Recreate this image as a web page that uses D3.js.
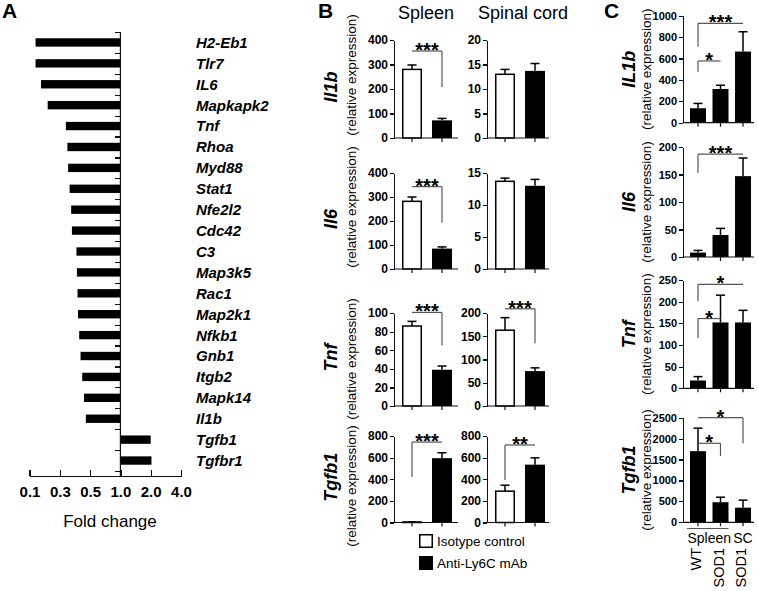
<!DOCTYPE html>
<html>
<head>
<meta charset="utf-8">
<script src="https://cdn.jsdelivr.net/npm/d3@7"></script>
<style>
  body { margin: 0; background: #fff; }
  svg { display: block; font-family: "Liberation Sans", Arial, sans-serif; }
  .axis path, .axis line { stroke: #111; stroke-width: 1.2; shape-rendering: crispEdges; }
  .axis text { font-weight: bold; fill: #000; font-family: "Liberation Sans", Arial, sans-serif; }
</style>
</head>
<body>
<svg width="758" height="591"></svg>
<script>
// ---- panel A: fold change ----
const genesA = ['H2-Eb1', 'Tlr7', 'IL6', 'Mapkapk2', 'Tnf', 'Rhoa', 'Myd88', 'Stat1', 'Nfe2l2', 'Cdc42', 'C3',
  'Map3k5', 'Rac1', 'Map2k1', 'Nfkb1', 'Gnb1', 'Itgb2', 'Mapk14', 'Il1b', 'Tgfb1', 'Tgfbr1'];
const foldA = [0.14, 0.14, 0.176, 0.22, 0.34, 0.35, 0.355, 0.365, 0.375, 0.38, 0.41,
  0.413, 0.417, 0.42, 0.428, 0.437, 0.448, 0.46, 0.472, 2.0, 2.05];
const foldTicks = [0.1, 0.3, 0.5, 1.0, 2.0, 4.0];

// ---- panel B: spleen / spinal cord ----
const bGenes = ['Il1b', 'Il6', 'Tnf', 'Tgfb1'];
const bGroups = ['Isotype control', 'Anti-Ly6C mAb'];
const bTissues = ['Spleen', 'Spinal cord'];
const spleenMean = [[280, 72], [282, 85], [86, 39], [5, 595]];
const spleenErr = [[298, 80], [300, 92], [91, 43], [6, 645]];
const spleenMax = [400, 400, 100, 800];
const spleenStep = [100, 100, 20, 200];
const spleenSig = ['***', '***', '***', '***'];
const spleenBracket = [[355, 208], [343, 193], [100.6, 65], [744, 421]];
const cordMean = [[13.0, 13.7], [13.7, 13.0], [163, 75], [290, 535]];
const cordErr = [[14.0, 15.2], [14.2, 14.0], [190, 82], [345, 598]];
const cordMax = [20, 15, 200, 800];
const cordStep = [5, 5, 50, 200];
const cordSig = ['', '', '***', '**'];
const cordBracket = [null, null, [209, 135], [717, 394]];

// ---- panel C: WT / SOD1 ----
const cGenes = ['IL1b', 'Il6', 'Tnf', 'Tgfb1'];
const cGroups = ['WT', 'SOD1', 'SOD1'];
const cTissues = ['Spleen', 'SC'];
const cMean = [[135, 315, 665], [8, 40, 147], [18, 152, 152], [1700, 480, 350]];
const cErr = [[180, 350, 850], [12, 52, 180], [27, 215, 180], [2250, 600, 530]];
const cMax = [1000, 200, 250, 2500];
const cStep = [200, 50, 50, 500];
// [from, to, stars, bracket level, end of the drop]
const cSig = [
  [[0, 1, '*', 577, 477], [0, 2, '***', 929, 710]],
  [[0, 2, '***', 187, 153]],
  [[0, 1, '*', 161, 116], [0, 2, '*', 240, 201]],
  [[0, 1, '*', 1888, 1585], [0, 2, '*', 2500, 1888]]
];

const svg = d3.select('svg');

function panelLetter(x, y, t) {
  svg.append('text').attr('x', x).attr('y', y).text(t)
    .style('font-size', '21px').style('font-weight', 'bold');
}

// ================= A =================
const gA = svg.append('g');
const xA = d3.scaleLinear().domain(foldTicks).range(foldTicks.map((d, i) => 29.5 + i * 30.3));
const yA = d3.scaleBand().domain(genesA).range([32, 471]).paddingInner(0.6).paddingOuter(0.3);
const rowA = d3.scaleLinear().domain([0, genesA.length]).range([32, 471]);

gA.selectAll('rect')
  .data(genesA)
  .enter()
  .append('rect')
  .attr('x', (d, i) => Math.min(xA(foldA[i]), xA(1)))
  .attr('width', (d, i) => Math.abs(xA(foldA[i]) - xA(1)))
  .attr('y', d => yA(d))
  .attr('height', yA.bandwidth())
  .attr('fill', '#000');

const yAxisA = gA.append('g')
  .attr('class', 'axis')
  .attr('transform', `translate(${xA(1)},0)`)
  .call(d3.axisLeft(rowA).tickValues(d3.range(0, genesA.length + 1)).tickFormat('').tickSize(5).tickSizeOuter(0));
yAxisA.select('.domain').remove();
gA.append('line')
  .attr('x1', xA(1)).attr('x2', xA(1)).attr('y1', 32).attr('y2', 476)
  .attr('stroke', '#111').attr('stroke-width', 1.2);

gA.selectAll('text.gene')
  .data(genesA)
  .enter()
  .append('text')
  .attr('class', 'gene')
  .attr('x', 196)
  .attr('y', d => yA(d) + yA.bandwidth() / 2)
  .attr('dy', '0.36em')
  .style('font-size', '15px')
  .style('font-weight', 'bold')
  .style('font-style', 'italic')
  .text(d => d);

gA.append('g')
  .attr('class', 'axis')
  .attr('transform', 'translate(0,476)')
  .call(d3.axisBottom(xA).tickValues(foldTicks).tickFormat(d3.format('.1f'))
    .tickSizeInner(-6).tickSizeOuter(0).tickPadding(10))
  .selectAll('text').style('font-size', '15px');

gA.append('text')
  .attr('x', 110).attr('y', 527)
  .attr('text-anchor', 'middle')
  .style('font-size', '17px')
  .text('Fold change');

panelLetter(2, 18, 'A');

// ============ bar chart helper (B and C) ============
function barChart(parent, o) {
  const g = parent.append('g');
  const idx = o.means.map((d, i) => i);
  const x = d3.scaleBand().domain(idx).range([o.axisX + o.x0, o.axisX + o.x1]).paddingInner(o.pad);
  const y = d3.scaleLinear().domain([0, o.max]).range([o.bottom, o.top]);
  const cx = i => x(i) + x.bandwidth() / 2;

  // error bars (upper whisker only)
  idx.forEach(i => {
    g.append('line').attr('x1', cx(i)).attr('x2', cx(i))
      .attr('y1', y(o.means[i])).attr('y2', y(o.errs[i]))
      .attr('stroke', '#000').attr('stroke-width', 1.5);
    g.append('line').attr('x1', cx(i) - 4.5).attr('x2', cx(i) + 4.5)
      .attr('y1', y(o.errs[i])).attr('y2', y(o.errs[i]))
      .attr('stroke', '#000').attr('stroke-width', 1.5);
  });

  g.selectAll('rect.bar')
    .data(idx)
    .enter()
    .append('rect')
    .attr('class', 'bar')
    .attr('x', i => x(i) + (o.fills[i] === '#fff' ? 0.75 : 0))
    .attr('width', i => x.bandwidth() - (o.fills[i] === '#fff' ? 1.5 : 0))
    .attr('y', i => y(o.means[i]))
    .attr('height', i => Math.max(0.5, y(0) - y(o.means[i])))
    .attr('fill', i => o.fills[i])
    .attr('stroke', i => (o.fills[i] === '#fff' ? '#000' : 'none'))
    .attr('stroke-width', 1.5);

  const ya = g.append('g')
    .attr('class', 'axis')
    .attr('transform', `translate(${o.axisX},0)`)
    .call(d3.axisLeft(y).tickValues(d3.range(0, o.max + o.step / 2, o.step)).tickFormat(d3.format('d'))
      .tickSize(4).tickSizeOuter(0).tickPadding(2));
  ya.selectAll('text').style('font-size', o.tickFont);

  g.append('line')
    .attr('x1', o.axisX).attr('x2', o.xEnd).attr('y1', y(0)).attr('y2', y(0))
    .attr('stroke', '#111').attr('stroke-width', 1.2);
  idx.forEach(i => {
    g.append('line').attr('x1', cx(i)).attr('x2', cx(i)).attr('y1', y(0)).attr('y2', y(0) + 4)
      .attr('stroke', '#111').attr('stroke-width', 1.2);
  });

  // significance brackets
  o.sig.forEach(s => {
    const [a, b, label, level, drop] = s;
    const low = o.means[a] < o.means[b] ? a : b;
    const path = d3.path();
    path.moveTo(cx(a), y(level));
    path.lineTo(cx(b), y(level));
    g.append('path').attr('d', path.toString()).attr('fill', 'none').attr('stroke', '#555').attr('stroke-width', 1.2);
    g.append('line').attr('x1', cx(low)).attr('x2', cx(low)).attr('y1', y(level)).attr('y2', y(drop))
      .attr('stroke', '#555').attr('stroke-width', 1.2);
    g.append('text')
      .attr('x', (cx(a) + cx(b)) / 2).attr('y', y(level) + 6)
      .attr('text-anchor', 'middle')
      .style('font-size', '20px').style('font-weight', 'bold')
      .text(label);
  });

  return { x, y, cx };
}

function yTitle(g, gx, rx, gy, ry, gene) {
  g.append('text')
    .attr('transform', `translate(${gx},${gy}) rotate(-90)`)
    .attr('dy', '0.35em').attr('text-anchor', 'middle')
    .style('font-size', '18px').style('font-weight', 'bold').style('font-style', 'italic')
    .text(gene);
  g.append('text')
    .attr('transform', `translate(${rx},${ry}) rotate(-90)`)
    .attr('dy', '0.35em').attr('text-anchor', 'middle')
    .style('font-size', '13.5px')
    .text('(relative expression)');
}

// ================= B =================
const gB = svg.append('g');
const bRows = [[40, 138], [173, 269], [313, 406], [436, 522.5]];
const bRelY = [75, 207, 359, 486];
const bCols = [{ axisX: 394, xEnd: 458 }, { axisX: 487, xEnd: 549 }];
const bFills = ['#fff', '#000'];

bTissues.forEach((t, c) => {
  gB.append('text')
    .attr('x', (bCols[c].axisX + bCols[c].xEnd) / 2 + c * 5).attr('y', 19)
    .attr('text-anchor', 'middle')
    .style('font-size', '18px')
    .text(t);
});

bGenes.forEach((gene, r) => {
  const src = [
    { means: spleenMean[r], errs: spleenErr[r], max: spleenMax[r], step: spleenStep[r], sig: spleenSig[r], br: spleenBracket[r] },
    { means: cordMean[r], errs: cordErr[r], max: cordMax[r], step: cordStep[r], sig: cordSig[r], br: cordBracket[r] }
  ];
  src.forEach((s, c) => {
    barChart(gB, {
      axisX: bCols[c].axisX, xEnd: bCols[c].xEnd, x0: 8, x1: 58, pad: 1 / 3,
      top: bRows[r][0], bottom: bRows[r][1], max: s.max, step: s.step,
      means: s.means, errs: s.errs, fills: bFills, tickFont: '12px',
      sig: s.sig ? [[0, 1, s.sig, s.br[0], s.br[1]]] : []
    });
  });
  yTitle(gB, 331, 351, (bRows[r][0] + bRows[r][1]) / 2 - 2, bRelY[r], gene);
});

// legend
bGroups.forEach((name, i) => {
  gB.append('rect')
    .attr('x', 419.75).attr('y', 534.75 + i * 22).attr('width', 12.5).attr('height', 12.5)
    .attr('fill', bFills[i]).attr('stroke', '#000').attr('stroke-width', 1.5);
  gB.append('text')
    .attr('x', 437).attr('y', 541 + i * 22).attr('dy', '0.36em')
    .style('font-size', '13.5px')
    .text(name);
});

panelLetter(318, 18, 'B');

// ================= C =================
const gC = svg.append('g');
const cRows = [[15.7, 122.7], [147, 257], [280, 388.3], [417.7, 522.3]];
const cFills = ['#000', '#000', '#000'];
let lastC;

cGenes.forEach((gene, r) => {
  lastC = barChart(gC, {
    axisX: 683, xEnd: 754, x0: 7, x1: 68, pad: 0.29,
    top: cRows[r][0], bottom: cRows[r][1], max: cMax[r], step: cStep[r],
    means: cMean[r], errs: cErr[r], fills: cFills, tickFont: '11px',
    sig: cSig[r]
  });
  const mid = (cRows[r][0] + cRows[r][1]) / 2;
  yTitle(gC, 629, 646, mid, mid, gene);
});

// group labels under the last chart
const cx = lastC.cx;
gC.append('line')
  .attr('x1', lastC.x(0) - 3).attr('x2', lastC.x(1) + lastC.x.bandwidth())
  .attr('y1', 528.5).attr('y2', 528.5)
  .attr('stroke', '#555').attr('stroke-width', 1.2);
gC.append('text')
  .attr('x', (cx(0) + cx(1)) / 2).attr('y', 543)
  .attr('text-anchor', 'middle').style('font-size', '14px')
  .text(cTissues[0]);
gC.append('text')
  .attr('x', cx(2)).attr('y', 543)
  .attr('text-anchor', 'middle').style('font-size', '14px')
  .text(cTissues[1]);
cGroups.forEach((name, i) => {
  gC.append('text')
    .attr('transform', `translate(${cx(i) - 2},548) rotate(-90)`)
    .attr('dy', '0.35em').attr('text-anchor', 'end')
    .style('font-size', '14.5px')
    .text(name);
});

panelLetter(604, 18, 'C');
</script>
</body>
</html>
